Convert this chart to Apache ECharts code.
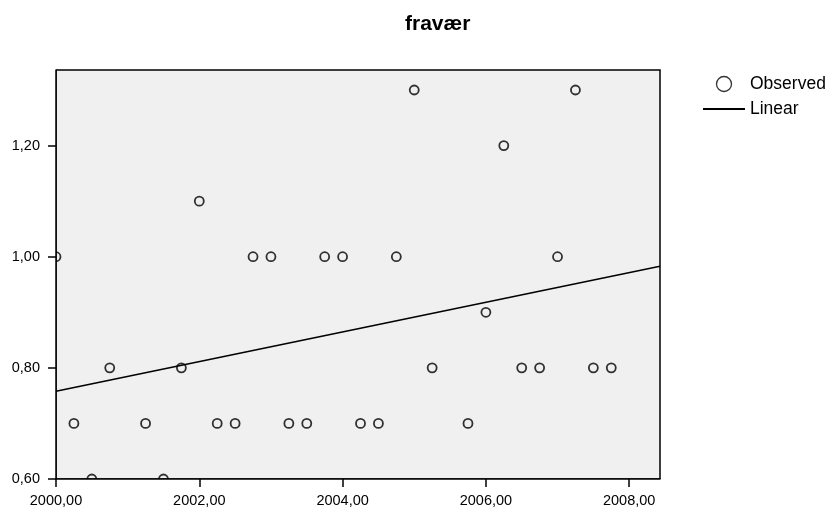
<!DOCTYPE html>
<html>
<head>
<meta charset="utf-8">
<script src="https://cdn.jsdelivr.net/npm/echarts@6/dist/echarts.min.js"></script>
<style>
  html, body { margin: 0; padding: 0; background: #fff; }
  #main { width: 827px; height: 509px; }
</style>
</head>
<body>
<div id="main"></div>
<script>
const years = [
  2000.00, 2000.25, 2000.50, 2000.75, 2001.25, 2001.50, 2001.75,
  2002.00, 2002.25, 2002.50, 2002.75, 2003.00, 2003.25, 2003.50, 2003.75,
  2004.00, 2004.25, 2004.50, 2004.75, 2005.00, 2005.25, 2005.75,
  2006.00, 2006.25, 2006.50, 2006.75, 2007.00, 2007.25, 2007.50, 2007.75
];
const fravaer = [
  1.00, 0.70, 0.60, 0.80, 0.70, 0.60, 0.80,
  1.10, 0.70, 0.70, 1.00, 1.00, 0.70, 0.70, 1.00,
  1.00, 0.70, 0.70, 1.00, 1.30, 0.80, 0.70,
  0.90, 1.20, 0.80, 0.80, 1.00, 1.30, 0.80, 0.80
];
// linear fit, two ends read at the plot edges
const linearX = [2000, 2008.43];
const linearY = [0.758, 0.983];

const xTicks = [2000, 2002, 2004, 2006, 2008];
const yTicks = [0.6, 0.8, 1.0, 1.2];

const fmt = v => v.toFixed(2).replace('.', ',');

var chartDom = document.getElementById('main');
var myChart = echarts.init(chartDom);
var option;

option = {
  animation: false,
  title: {
    text: 'fravær',
    left: 400,
    top: 9,
    textStyle: { fontFamily: 'Liberation Sans', fontSize: 21, fontWeight: 'bold', color: '#000' }
  },
  legend: {
    orient: 'vertical',
    left: 697,
    top: 70,
    itemWidth: 42,
    itemHeight: 15,
    itemGap: 7,
    textStyle: { fontFamily: 'Liberation Sans', fontSize: 17.5, color: '#000' },
    data: [
      { name: 'Observed', itemStyle: { borderWidth: 1.3 } },
      // hide the dot that line legends draw by default
      { name: 'Linear', itemStyle: { opacity: 0 } }
    ]
  },
  grid: {
    left: 56,
    right: 167,
    top: 70,
    bottom: 30,
    show: true,
    backgroundColor: '#f0f0f0',
    borderColor: '#000',
    borderWidth: 1.5
  },
  xAxis: {
    type: 'value',
    min: 2000,
    max: 2008.43,
    z: 10,
    splitLine: { show: false },
    axisLine: { lineStyle: { color: '#000', width: 1.5 } },
    axisTick: { length: 8, lineStyle: { color: '#000', width: 1.5 }, customValues: xTicks },
    axisLabel: {
      customValues: xTicks,
      margin: 14,
      color: '#000',
      fontFamily: 'Liberation Sans',
      fontSize: 14.5,
      formatter: fmt
    }
  },
  yAxis: {
    type: 'value',
    min: 0.6,
    max: 1.336,
    z: 10,
    splitLine: { show: false },
    axisLine: { lineStyle: { color: '#000', width: 1.5 } },
    axisTick: { length: 8, lineStyle: { color: '#000', width: 1.5 }, customValues: yTicks },
    axisLabel: {
      customValues: yTicks,
      margin: 16,
      color: '#000',
      fontFamily: 'Liberation Sans',
      fontSize: 14.5,
      formatter: fmt
    }
  },
  // white masks so markers on the axes are cut like in the original
  graphic: [
    { type: 'rect', z: 5, shape: { x: 0, y: 479, width: 827, height: 30 }, style: { fill: '#fff' }, silent: true },
    { type: 'rect', z: 5, shape: { x: 0, y: 0, width: 56, height: 509 }, style: { fill: '#fff' }, silent: true }
  ],
  series: [
    {
      name: 'Observed',
      type: 'scatter',
      symbol: 'circle',
      symbolSize: 9,
      itemStyle: { color: 'rgba(0,0,0,0)', borderColor: '#000', borderWidth: 1.8 },
      data: years.map((x, i) => [x, fravaer[i]])
    },
    {
      name: 'Linear',
      type: 'line',
      symbol: 'none',
      color: '#000',
      lineStyle: { color: '#000', width: 1.5 },
      data: linearX.map((x, i) => [x, linearY[i]])
    }
  ]
};

option && myChart.setOption(option);
</script>
</body>
</html>
